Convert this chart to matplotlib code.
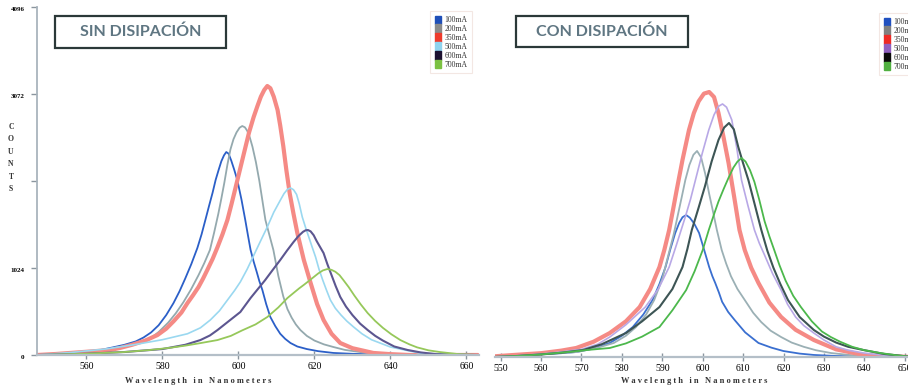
import matplotlib
matplotlib.use("Agg")
import matplotlib.pyplot as plt
from matplotlib.patches import Patch, Rectangle

# ---- data (wavelength nm, counts) ----
labels = ["100mA", "200mA", "350mA", "500mA", "600mA", "700mA"]

# SIN DISIPACION
sin_100_x = [547, 552, 556, 560, 563.7, 567, 570, 573, 575, 577, 579, 581, 582.9, 584.5, 586, 587.6, 589.2,
             590.3, 591.3, 592.3, 593.2, 594, 594.8, 595.5, 596.2, 596.8, 597.4, 598.1, 598.9, 599.7, 600.8,
             601.8, 602.5, 603.2, 604, 604.8, 605.5, 606.3, 607.3, 608.4, 609.7, 611, 612.3, 613.7, 615.5,
             618, 621, 625, 630, 635, 642, 650, 663]
sin_100_y = [0, 12, 25, 40, 59, 90, 120, 160, 205, 265, 350, 470, 610, 750, 900, 1070, 1260,
             1420, 1589, 1760, 1910, 2060, 2180, 2280, 2350, 2389, 2370, 2290, 2180, 2060, 1830,
             1589, 1410, 1236, 1100, 980, 870, 765, 600, 447, 340, 250, 190, 141, 100,
             70, 45, 24, 14, 8, 3, 0, 0]
sin_200_x = [547, 552, 556, 560, 565, 570, 573, 576.8, 579, 581.5, 583.5, 585.5, 587.5, 589.5, 591, 592.5,
             593.6, 594.7, 595.5, 596.3, 597.1, 597.9, 598.7, 599.5, 600.3, 601, 601.7, 602.3, 603, 603.7,
             604.6, 605.5, 606.3, 607.1, 608.1, 609.2, 610.5, 611.8, 612.9, 614, 615.1, 616.3, 618, 620,
             622.5, 625, 628, 632, 636, 640, 650, 663]
sin_200_y = [0, 10, 20, 32, 60, 100, 140, 195, 270, 380, 490, 620, 770, 940, 1080, 1236,
             1440, 1660, 1840, 2030, 2240, 2420, 2540, 2620, 2675, 2695, 2680, 2640, 2560, 2450,
             2270, 2050, 1820, 1589, 1420, 1236, 930, 690, 540, 440, 360, 294, 225, 170,
             125, 94, 60, 35, 15, 5, 0, 0]
sin_350_x = [547, 552, 556, 560, 566.3, 569, 572, 575.5, 578.7, 581, 583, 585, 586.6, 588, 589.5, 590.7,
             591.8, 593.2, 594.5, 595.8, 597.1, 598.2, 599.3, 600.5, 601.7, 602.8, 604, 605, 605.9, 606.8,
             607.6, 608.4, 609.3, 610.3, 611, 611.8, 612.6, 613.5, 614.5, 615.5, 617.2, 619, 620.7, 622.4,
             624.5, 626.8, 630, 635.5, 640, 645, 663]
sin_350_y = [0, 12, 25, 38, 59, 85, 120, 170, 235, 310, 400, 500, 612, 700, 800, 900,
             1000, 1130, 1270, 1420, 1589, 1780, 1980, 2200, 2420, 2620, 2800, 2930, 3040, 3120,
             3166, 3140, 3040, 2884, 2700, 2460, 2180, 1900, 1660, 1436, 1120, 847, 600, 412,
             250, 141, 80, 24, 10, 0, 0]
sin_500_x = [547, 556, 565, 572.4, 580, 586.6, 590, 592.6, 595, 597, 599, 600.5, 602.3, 604, 605.8, 607.6,
             609.3, 611, 612, 612.9, 613.7, 614.5, 615.3, 616, 616.8, 617.6, 618.5, 619.4, 620.3, 621.2,
             622.2, 623.2, 624.2, 625.5, 627, 628.5, 630.3, 632.5, 635, 640, 648, 663]
sin_500_y = [0, 30, 70, 120, 180, 250, 320, 412, 520, 640, 760, 860, 1010, 1170, 1340, 1507,
             1680, 1820, 1900, 1950, 1966, 1945, 1890, 1780, 1624, 1510, 1390, 1270, 1153, 1010,
             880, 760, 647, 550, 470, 400, 330, 250, 180, 94, 20, 0]
sin_600_x = [547, 560, 570, 580, 586, 590, 592.5, 594.5, 597.5, 600.5, 603.2, 605, 607, 609, 611, 612.8,
             614.5, 615.8, 617, 617.7, 618.3, 619, 619.8, 620.6, 621.5, 622.4, 623.4, 624.5, 625.6, 626.8,
             628.3, 630, 632, 634, 636, 638, 641, 644.5, 648, 652, 663]
sin_600_y = [0, 15, 35, 70, 120, 176, 230, 294, 400, 506, 671, 770, 880, 1000, 1118, 1230,
             1330, 1400, 1450, 1468, 1471, 1455, 1410, 1340, 1270, 1200, 1070, 940, 810, 683,
             570, 470, 370, 294, 225, 170, 100, 59, 30, 10, 0]
sin_700_x = [547, 560, 570, 576.8, 582, 586, 590, 594.5, 598, 601, 604.5, 607.6, 610.5, 612.9, 614.5, 616,
             617.2, 618.2, 619.6, 621, 622.2, 623.4, 624.5, 625.5, 626.6, 627.6, 629, 630.5, 632.2, 634,
             636, 638, 640.2, 642.6, 645, 647, 650, 653, 658, 663]
sin_700_y = [0, 15, 35, 59, 85, 110, 140, 176, 225, 290, 360, 447, 560, 671, 730, 785,
             825, 860, 910, 960, 995, 1012, 1002, 980, 940, 883, 800, 700, 595, 494,
             400, 320, 245, 176, 125, 90, 55, 35, 10, 0]

# CON DISIPACION
con_100_x = [548, 554, 560.6, 565, 568.7, 573, 577, 580, 582.7, 585.3, 587.6, 589.3, 590.8, 592, 593.2,
             594.2, 595, 595.9, 596.8, 597.9, 599.1, 600.3, 601.6, 602.4, 603.1, 604, 604.8, 606.3, 608,
             610.5, 613.8, 617, 620, 624, 627.5, 633, 640, 652]
con_100_y = [0, 15, 35, 45, 59, 100, 165, 250, 353, 500, 671, 860, 1059, 1270, 1459,
             1580, 1645, 1671, 1640, 1570, 1460, 1270, 1059, 950, 871, 760, 650, 530, 430,
             290, 165, 110, 70, 40, 24, 12, 5, 0]
con_200_x = [548, 554, 560, 565, 569, 574, 578, 581, 583.5, 586, 588, 590, 591.5, 592.8, 593.8, 594.8,
             595.7, 596.7, 597.7, 598.6, 599.6, 600.6, 601.6, 602.6, 603.5, 604.7, 605.8, 607, 608.6,
             610.4, 612.5, 614.5, 616.8, 619.4, 622, 625, 628, 631.7, 636, 640, 652]
con_200_y = [0, 12, 30, 45, 59, 110, 165, 250, 353, 500, 671, 920, 1200, 1440, 1660, 1880,
             2083, 2260, 2380, 2425, 2350, 2160, 1920, 1700, 1495, 1259, 1100, 950, 800,
             671, 520, 410, 310, 235, 170, 120, 80, 47, 25, 10, 0]
con_350_x = [546, 552, 560, 565, 568.7, 573, 577, 581, 584.4, 587, 589.3, 590.5, 591.7, 592.6, 593.5,
             595, 596.6, 597.8, 599, 600.3, 601.6, 602.8, 603.9, 605.1, 606.4, 607.8, 609.1, 610.4, 612,
             613.8, 616.5, 619.4, 623, 627.5, 633, 639.8, 646, 652]
con_350_y = [0, 20, 45, 75, 106, 180, 282, 420, 588, 800, 1059, 1260, 1495, 1720, 1950,
             2320, 2672, 2870, 3010, 3100, 3119, 3060, 2872, 2600, 2283, 1880, 1495, 1259, 1050,
             871, 640, 471, 320, 200, 90, 24, 8, 0]
con_500_x = [548, 554, 560, 565, 570, 574, 577, 581, 585.8, 589, 591.7, 593.5, 595.7, 597, 598.2, 599.9,
             601.5, 602.8, 603.9, 604.9, 605.9, 607.2, 608.4, 609.6, 611.2, 612.8, 614, 615.3, 617.3,
             619.4, 621, 623, 625, 627.5, 630, 633, 636, 639.8, 645, 652]
con_500_y = [0, 15, 35, 60, 90, 150, 235, 380, 588, 800, 1059, 1320, 1650, 1860, 2083, 2400,
             2672, 2850, 2950, 2978, 2940, 2790, 2470, 2083, 1780, 1495, 1340, 1200, 980,
             788, 620, 470, 370, 282, 200, 120, 80, 47, 20, 0]
con_600_x = [548, 554, 560, 565, 570.4, 575, 581, 585, 589.3, 592.5, 595, 596.2, 597.3, 599, 600.5, 602.2,
             603.9, 605.3, 606.5, 607.7, 608.8, 610, 611.3, 612.9, 614.5, 616, 617.5, 619.2, 621.1, 624,
             627.5, 630, 633, 636, 639.8, 645, 652]
con_600_y = [0, 12, 30, 50, 82, 150, 282, 420, 588, 800, 1059, 1270, 1495, 1760, 2000, 2300,
             2554, 2700, 2754, 2680, 2472, 2280, 2083, 1790, 1495, 1250, 1050, 860, 671, 470,
             318, 240, 170, 120, 82, 35, 0]
con_700_x = [548, 554, 560, 567, 572, 577, 581, 585, 589.3, 592.5, 595.9, 598, 600, 601.5, 602.8, 603.9,
             605.2, 606.4, 607.6, 608.6, 609.6, 610.6, 611.7, 612.8, 614, 615.3, 616.5, 617.7, 619,
             620.5, 622.4, 624.3, 627, 629.5, 631.7, 634, 637, 640, 643.9, 648, 652]
con_700_y = [0, 12, 30, 60, 85, 106, 160, 240, 353, 550, 788, 1010, 1259, 1495, 1680, 1830,
             1980, 2110, 2230, 2300, 2342, 2300, 2200, 2060, 1850, 1600, 1420, 1259, 1080,
             900, 720, 588, 420, 300, 235, 180, 120, 80, 47, 20, 0]

sin_x = [sin_100_x, sin_200_x, sin_350_x, sin_500_x, sin_600_x, sin_700_x]
sin_y = [sin_100_y, sin_200_y, sin_350_y, sin_500_y, sin_600_y, sin_700_y]
con_x = [con_100_x, con_200_x, con_350_x, con_500_x, con_600_x, con_700_x]
con_y = [con_100_y, con_200_y, con_350_y, con_500_y, con_600_y, con_700_y]

sin_colors = ["#2b5fc8", "#94a9ae", "#f58a85", "#9ad8f0", "#5c5690", "#96c85a"]
con_colors = ["#3a6fd0", "#9bb0b5", "#f58a85", "#b8a8e6", "#3d5555", "#4cb84c"]
sin_leg = ["#1f4fb8", "#8a8a8a", "#ee3b2c", "#8fd3ee", "#1c1030", "#7cc142"]
con_leg = ["#2050c0", "#808080", "#ee2a25", "#9060c0", "#0a0a0a", "#50b040"]
widths = [1.3, 1.3, 3.0, 1.2, 1.5, 1.3]

serif = "Liberation Serif"

fig = plt.figure(figsize=(9.08, 3.87), dpi=100)
W, H = 908.0, 387.0

ax1 = fig.add_axes([37 / W, 32 / H, 442 / W, 348 / H])
ax2 = fig.add_axes([495 / W, 30 / H, 413 / W, 348 / H])

for ax, xs, ys, cols in [(ax1, sin_x, sin_y, sin_colors), (ax2, con_x, con_y, con_colors)]:
    for x, y, c, lw in zip(xs, ys, cols, widths):
        ax.plot(x, y, color=c, lw=lw, solid_joinstyle="round", solid_capstyle="round")
    ax.set_ylim(0, 4096)
    for s in ["top", "right"]:
        ax.spines[s].set_visible(False)
    ax.spines["bottom"].set_color("#b4bfc8")
    ax.spines["bottom"].set_linewidth(1.6)
    ax.tick_params(axis="x", direction="inout", length=6, width=1, color="#8a959e",
                   labelsize=7, pad=2)

ax1.set_xlim(547, 663.3)
ax1.set_xticks([560, 580, 600, 620, 640, 660])
ax1.set_yticks([0, 1024, 2048, 3072, 4096])
ax1.set_yticklabels(["0", "1024", "", "3072", "4096"])
ax1.spines["left"].set_color("#a9b4bd")
ax1.spines["left"].set_linewidth(1.3)
ax1.tick_params(axis="y", direction="out", length=4, width=1, color="#8a959e",
                labelsize=5, pad=5)
for lbl in ax1.get_yticklabels():
    lbl.set_fontfamily(serif)
    lbl.set_fontweight("bold")
    lbl.set_va("top")

ax2.set_xlim(548.6, 650.8)
ax2.set_xticks(list(range(550, 651, 10)))
ax2.spines["left"].set_visible(False)
ax2.set_yticks([])

for ax in (ax1, ax2):
    for lbl in ax.get_xticklabels():
        lbl.set_fontfamily(serif)

# axis captions
fig.text(11 / W, 1 - 158 / H, "C\nO\nU\nN\nT\nS", family=serif, fontsize=5.5,
         fontweight="bold", ha="center", va="center", linespacing=1.75, color="#333333")
xlab = "W a v e l e n g t h   i n   N a n o m e t e r s"
fig.text(198 / W, 1 - 381 / H, xlab, family=serif, fontsize=6, fontweight="bold",
         ha="center", va="center", color="#333333")
fig.text(694 / W, 1 - 381 / H, xlab, family=serif, fontsize=6, fontweight="bold",
         ha="center", va="center", color="#333333")

# boxed titles
for (x0, x1, y0, y1, txt) in [(55, 226, 16, 48, "SIN DISIPACIÓN"), (516, 688, 16, 47, "CON DISIPACIÓN")]:
    fig.patches.append(Rectangle((x0 / W, 1 - y1 / H), (x1 - x0) / W, (y1 - y0) / H,
                                 transform=fig.transFigure, facecolor="white",
                                 edgecolor="#2b3838", lw=1.6))
    fig.text((x0 + x1) / 2 / W, 1 - (y0 + y1) / 2 / H, txt, family="Lato", fontsize=11.5,
             fontweight="bold", color="#5f7682", ha="center", va="center")

# legends (the right one runs off the edge of the picture, as in the original)
for ax, cols, anchor in [(ax1, sin_leg, (430 / W, 1 - 11 / H)), (ax2, con_leg, (879 / W, 1 - 13 / H))]:
    handles = [Patch(facecolor=c, edgecolor=c) for c in cols]
    leg = ax.legend(handles, labels, loc="upper left", bbox_to_anchor=anchor,
                    bbox_transform=fig.transFigure, frameon=True,
                    handlelength=0.8, handleheight=1.35, labelspacing=0.0,
                    handletextpad=0.5, borderpad=0.6, borderaxespad=0, fancybox=False,
                    prop={"family": serif, "size": 5.5})
    leg.get_frame().set_edgecolor("#f1e2dc")
    leg.get_frame().set_linewidth(0.8)
    for t in leg.get_texts():
        t.set_color("#333333")

fig.savefig("out.png", dpi=100)
